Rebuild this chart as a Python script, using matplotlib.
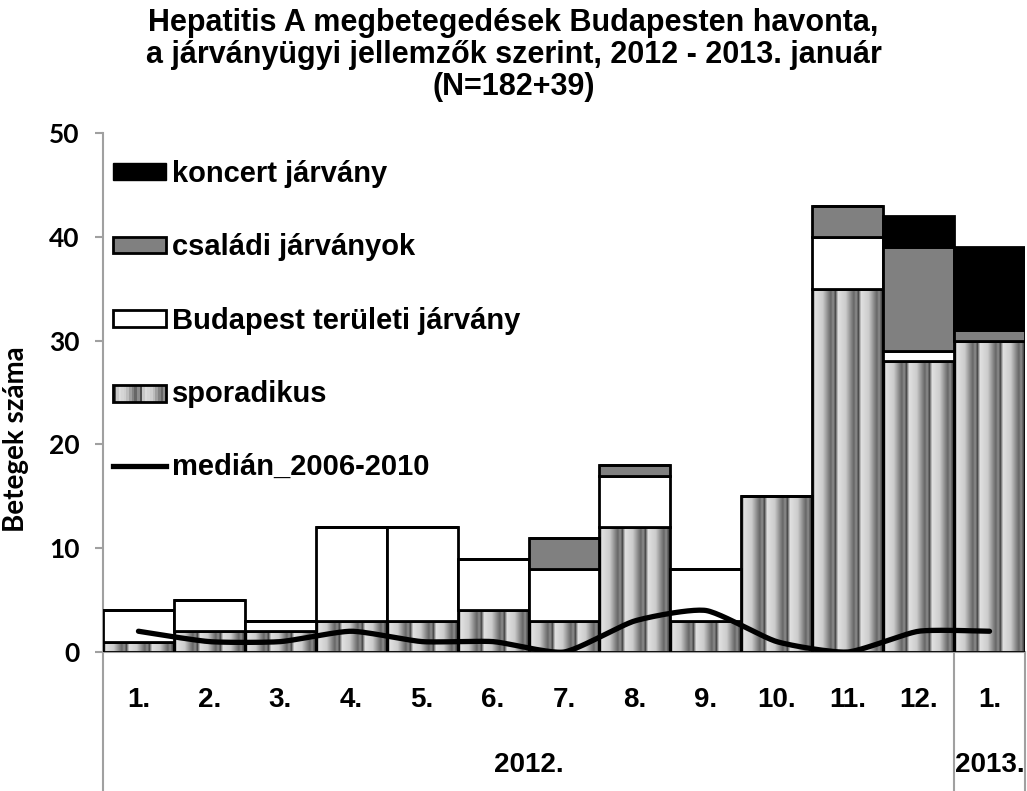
import numpy as np
import matplotlib.pyplot as plt
from matplotlib.patches import Rectangle
from matplotlib.lines import Line2D
from matplotlib.transforms import blended_transform_factory

plt.rcParams['font.family'] = ['Liberation Sans', 'DejaVu Sans']
plt.rcParams['font.weight'] = 'bold'

months = ['1.', '2.', '3.', '4.', '5.', '6.', '7.', '8.', '9.', '10.', '11.', '12.', '1.']
years = ['2012.', '2013.']
months_per_year = [12, 1]

sporadikus = [1, 2, 2, 3, 3, 4, 3, 12, 3, 15, 35, 28, 30]
teruleti = [3, 3, 1, 9, 9, 5, 5, 5, 5, 0, 5, 1, 0]
csaladi = [0, 0, 0, 0, 0, 0, 3, 1, 0, 0, 3, 10, 1]
koncert = [0, 0, 0, 0, 0, 0, 0, 0, 0, 0, 0, 3, 8]
median = [2, 1, 1, 2, 1, 1, 0, 3, 4, 1, 0, 2, 2]

GRAY = '#a0a0a0'


def stripes(n_px, period=23):
    # grey stripe texture used for the "sporadikus" fill
    t = (np.arange(n_px) % period) / period
    return np.interp(t, [0, .12, .45, .8, .9, 1],
                     [.3, .88, .8, .4, .55, .3])


def smooth(xs, ys, n=24, tension=0.3):
    # hermite curve through the points (something like excel's smoothed line)
    pts = np.column_stack([xs, ys]).astype(float)
    p = np.vstack([pts[0], pts, pts[-1]])
    tang = tension * (p[2:] - p[:-2])
    out = []
    t = np.linspace(0, 1, n, endpoint=False)[:, None]
    h00 = 2 * t ** 3 - 3 * t ** 2 + 1
    h10 = t ** 3 - 2 * t ** 2 + t
    h01 = -2 * t ** 3 + 3 * t ** 2
    h11 = t ** 3 - t ** 2
    for i in range(len(pts) - 1):
        out.append(h00 * pts[i] + h10 * tang[i] + h01 * pts[i + 1] + h11 * tang[i + 1])
    out.append(pts[-1:])
    return np.vstack(out)


class StripeHandler:
    def legend_artist(self, legend, orig_handle, fontsize, handlebox):
        w, h = handlebox.width, handlebox.height
        vals = stripes(20, period=10)
        for k, v in enumerate(vals):
            handlebox.add_artist(Rectangle((k * w / 20, 0), w / 20, h,
                                           facecolor=str(v), edgecolor='none',
                                           transform=handlebox.get_transform()))
        r = Rectangle((0, 0), w, h, facecolor='none', edgecolor='black', lw=2,
                      transform=handlebox.get_transform())
        handlebox.add_artist(r)
        return r


fig = plt.figure(figsize=(10.27, 7.91), dpi=100)
ax = fig.add_axes([103 / 1027, 139 / 791, 922 / 1027, 519 / 791])

x = np.arange(len(months))
sp = np.array(sporadikus)
te = np.array(teruleti)
cs = np.array(csaladi)
ko = np.array(koncert)

bars = ax.bar(x, sp, width=1.0, facecolor='none', edgecolor='black', lw=2, zorder=3)
for rect in bars:
    x0, w, h = rect.get_x(), rect.get_width(), rect.get_height()
    img = stripes(71)[None, :]
    ax.imshow(img, cmap='gray', vmin=0, vmax=1, extent=(x0, x0 + w, 0, h),
              aspect='auto', interpolation='bilinear', zorder=2)
ax.bar(x, te, bottom=sp, width=1.0, facecolor='white', edgecolor='black', lw=2, zorder=3)
ax.bar(x, cs, bottom=sp + te, width=1.0, facecolor='#808080', edgecolor='black', lw=2, zorder=3)
ax.bar(x, ko, bottom=sp + te + cs, width=1.0, facecolor='black', edgecolor='black', lw=2, zorder=3)

curve = smooth(x, median)
ax.plot(curve[:, 0], curve[:, 1], color='black', lw=3.8, solid_capstyle='round', zorder=5)

ax.set_xlim(-0.5, len(months) - 0.5)
ax.set_ylim(0, 50)
ax.set_yticks(range(0, 51, 10))
ax.tick_params(axis='y', direction='out', length=6, width=1.5, color=GRAY, pad=11,
               labelsize=19)
for lab in ax.get_yticklabels():
    lab.set_family(['Lato', 'DejaVu Sans'])
    lab.set_fontweight('bold')
ax.set_xticks([])
for s in ['top', 'right']:
    ax.spines[s].set_visible(False)
ax.spines['left'].set_color(GRAY)
ax.spines['bottom'].set_color(GRAY)
ax.spines['left'].set_linewidth(1.5)
ax.spines['bottom'].set_linewidth(1.5)

# two level category axis
tr = blended_transform_factory(ax.transData, ax.transAxes)
for i, m in enumerate(months):
    ax.text(i, -0.092, m, transform=tr, ha='center', va='center', fontsize=20)
start = 0
for yr, n in zip(years, months_per_year):
    ax.text(start + n / 2 - 0.5, -0.218, yr, transform=tr, ha='center', va='center',
            fontsize=20)
    start += n
bounds = np.cumsum([0] + months_per_year) - 0.5
for b in bounds:
    ax.plot([b, b], [0, -0.27], transform=tr, color=GRAY, lw=1.5, clip_on=False)

ax.set_ylabel('Betegek száma', fontsize=20, family=['Lato', 'DejaVu Sans'],
              fontweight='bold')
ax.yaxis.set_label_coords(-0.08, 0.41)

fig.suptitle('Hepatitis A megbetegedések Budapesten havonta,\n'
             'a járványügyi jellemzők szerint, 2012 - 2013. január\n'
             '(N=182+39)', fontsize=22, fontweight='bold', y=0.99,
             linespacing=1.08)

stripe_handle = Rectangle((0, 0), 1, 1)
handles = [Rectangle((0, 0), 1, 1, facecolor='black', edgecolor='black'),
           Rectangle((0, 0), 1, 1, facecolor='#808080', edgecolor='black', lw=2),
           Rectangle((0, 0), 1, 1, facecolor='white', edgecolor='black', lw=2),
           stripe_handle,
           Line2D([0], [0], color='black', lw=3.8)]
labels = ['koncert járvány', 'családi járványok', 'Budapest területi járvány',
          'sporadikus', 'medián_2006-2010']
leg = ax.legend(handles, labels, loc='upper left', bbox_to_anchor=(-0.011, 0.987),
                frameon=False, fontsize=21, handlelength=1.8, handleheight=0.5,
                handletextpad=0.2, labelspacing=1.55, borderaxespad=0.3,
                handler_map={stripe_handle: StripeHandler()})

fig.savefig('out.png', dpi=100)
